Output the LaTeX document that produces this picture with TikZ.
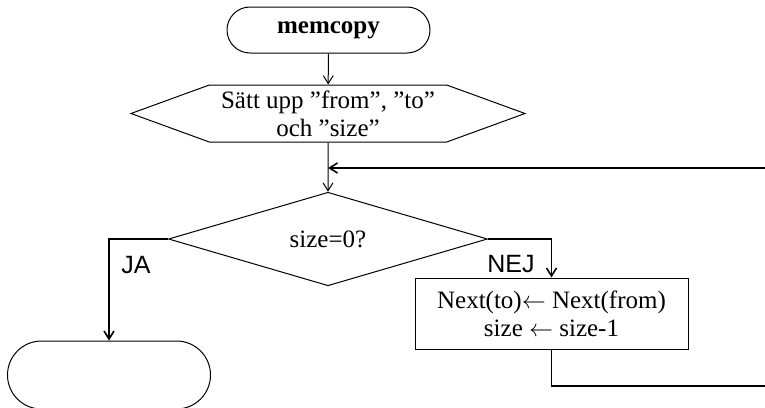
\documentclass[tikz,border=0pt]{standalone}
\usepackage{fontspec}
\setmainfont{Liberation Serif}
\newfontfamily\labelfont{Liberation Sans}
\usetikzlibrary{shapes.geometric,shapes.misc,shapes.symbols,arrows.meta}
\tikzstyle{terminal}=[rounded rectangle, draw, align=center, minimum width=101.5pt, minimum height=23pt, inner sep=0pt]
\tikzstyle{preparation}=[signal, signal to=west and east, signal pointer angle=40, draw, align=center, minimum width=197pt, minimum height=28.5pt, inner sep=0pt]
\tikzstyle{decision}=[diamond, draw, align=center, minimum width=159.5pt, minimum height=39pt, inner sep=0pt]
\tikzstyle{process}=[rectangle, draw, align=center, minimum width=136.5pt, minimum height=35.5pt]
\tikzstyle{branch}=[line width=0.8pt]
\tikzstyle{answer}=[font=\labelfont\fontsize{12.5}{14}\selectfont]
\begin{document}
\begin{tikzpicture}[x=0.5pt, y=-0.5pt, line width=0.5pt, >={Straight Barb[length=4pt,width=5pt]},
  every node/.style={font=\fontsize{12.5}{14}\selectfont}]
\useasboundingbox (0,0) rectangle (765,407);
\clip (0,0) rectangle (765,407);

\node[terminal] (start) at (328.5,30) {\textbf{memcopy}};
\node[preparation] (setup) at (328,113.5) {Sätt upp ”from”, ”to”\\och ”size”};
\node[decision] (check) at (328,239) {size=0?};
\node[process] (step) at (551.5,313.5) {Next(to)$\leftarrow$ Next(from)\\size $\leftarrow$ size-1};
\node[terminal, minimum height=34pt] (stop) at (109,375) {};
\coordinate (join) at (328,168);
\coordinate (back) at (800,386);

\node[answer] (ja) at (136,265) {JA};
\node[answer] (nej) at (511,264) {NEJ};

\draw[->] (start) -- (setup);
\draw[->] (setup) -- (check);
\draw[->,branch] (check.west) -| (stop.north);
\draw[->,branch] (check.east) -| (step.north);
\draw[->,branch] (step.south) |- (back) |- (join);

\end{tikzpicture}
\end{document}
